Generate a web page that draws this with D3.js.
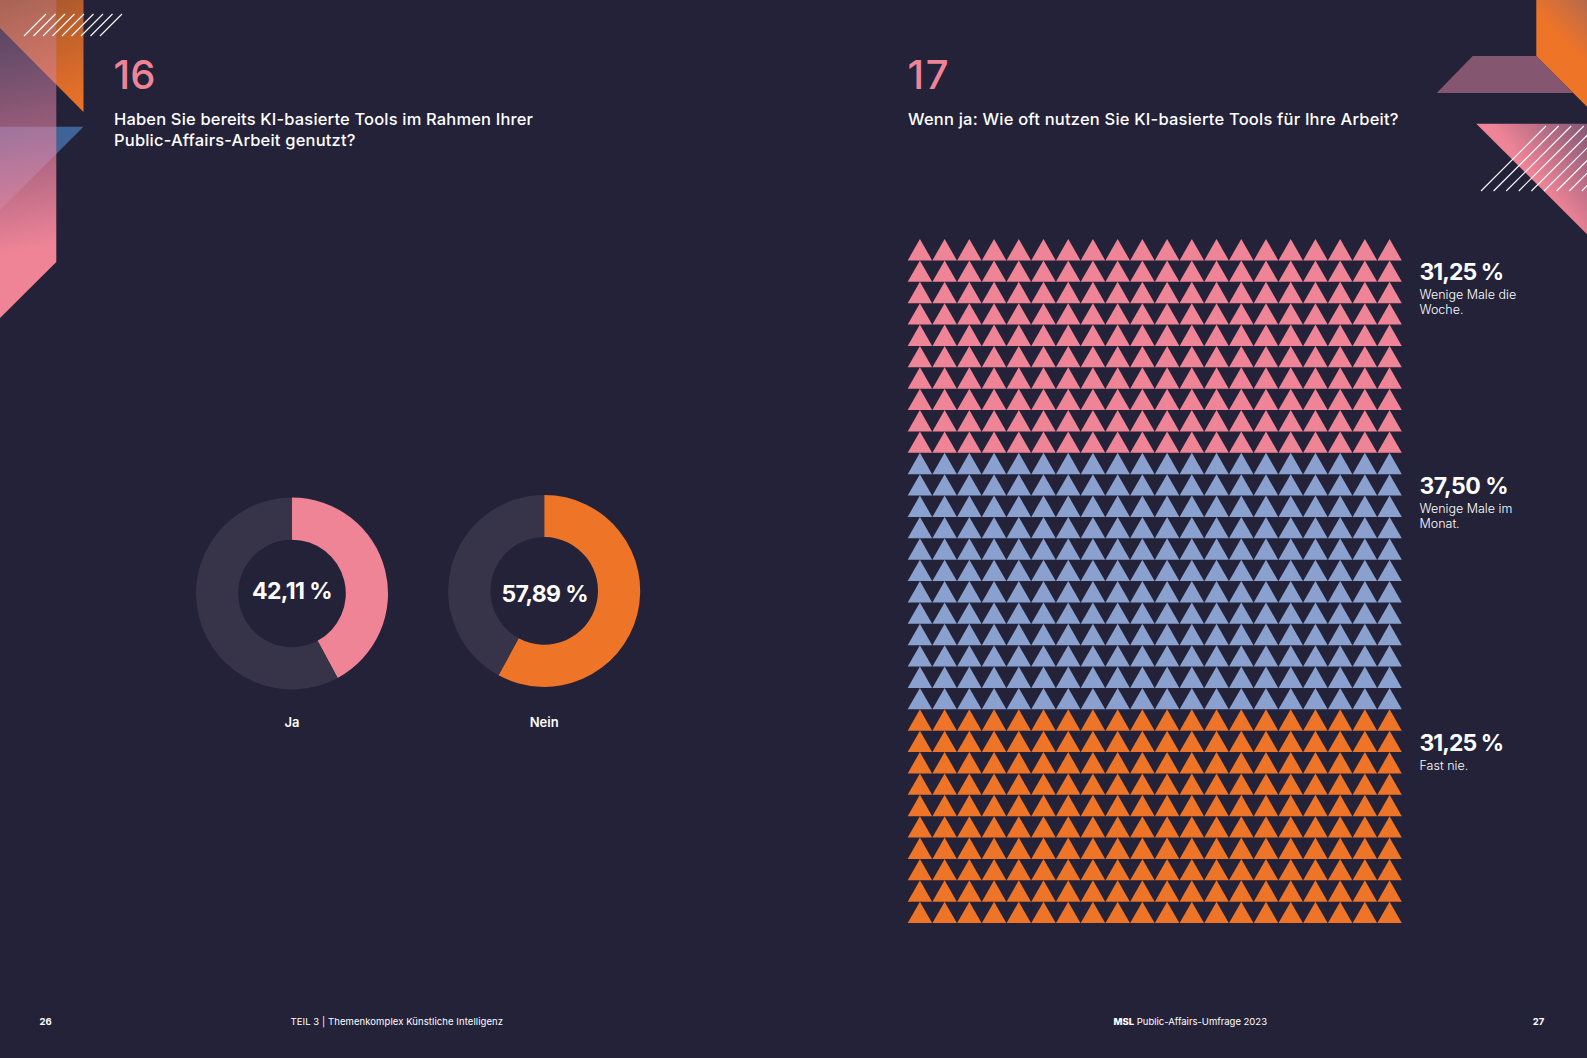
<!DOCTYPE html>
<html lang="de">
<head>
<meta charset="utf-8">
<title>MSL Public-Affairs-Umfrage 2023</title>
<script src="https://cdn.jsdelivr.net/npm/d3@7/dist/d3.min.js"></script>
<style>
html,body{margin:0;padding:0;background:#232238;overflow:hidden}
svg{display:block}
text{font-family:Inter,"Noto Sans",sans-serif;fill:#fff}
</style>
</head>
<body>
<svg id="page" width="1587" height="1058" viewBox="0 0 1587 1058"></svg>
<script>
// Data
const donutCategories = ["Ja", "Nein"];
const donutValues = [42.11, 57.89];
const donutLabels = ["42,11 %", "57,89 %"];
const frequencyLabels = ["31,25 %", "37,50 %", "31,25 %"];
const frequencyNames = [["Wenige Male die", "Woche."], ["Wenige Male im", "Monat."], ["Fast nie."]];
const frequencyCounts = [200, 240, 200];
const questionLeft = ["Haben Sie bereits KI-basierte Tools im Rahmen Ihrer", "Public-Affairs-Arbeit genutzt?"];
const questionRight = ["Wenn ja: Wie oft nutzen Sie KI-basierte Tools für Ihre Arbeit?"];

// Style
const BG = "#232238", PINK = "#f08497", ORANGE = "#ee7428", BLUE = "#8aa1cf", TRACK = "#373449";
const svg = d3.select("#page");
svg.append("rect").attr("width", 1587).attr("height", 1058).attr("fill", BG);
const defs = svg.append("defs");
function gradient(id, x1, y1, x2, y2, stops) {
  const g = defs.append("linearGradient").attr("id", id).attr("gradientUnits", "userSpaceOnUse")
    .attr("x1", x1).attr("y1", y1).attr("x2", x2).attr("y2", y2);
  stops.forEach(s => g.append("stop").attr("offset", s[0]).attr("stop-color", s[1]).attr("stop-opacity", s[2]));
}
gradient("gOrangeL", 30, -10, 83, 112, [[0, ORANGE, 0.62], [1, ORANGE, 1]]);
gradient("gBand", 0, 0, 56, 290, [[0, "#b98ab8", 0.28], [0.45, "#e07fa0", 0.62], [0.85, PINK, 1], [1, PINK, 1]]);
gradient("gOrangeR", 1540, 70, 1600, 10, [[0, ORANGE, 1], [0.45, ORANGE, 1], [1, "#b3684e", 1]]);
gradient("gPinkR", 1500, 190, 1587, 120, [[0, PINK, 1], [0.3, PINK, 1], [1, "#7f5573", 1]]);

const poly = (pts, fill) => svg.append("polygon").attr("points", pts.map(p => p.join(",")).join(" ")).attr("fill", fill);
// Left decoration
poly([[0, 0], [83.5, 0], [83.5, 112], [0, 28]], "url(#gOrangeL)");
poly([[0, 126.7], [83.5, 126.7], [0, 210]], "#3f6396");
poly([[0, 0], [56.3, 0], [56.3, 262], [0, 318]], "url(#gBand)");
// Right decoration
poly([[1472.7, 56], [1536.3, 56], [1573, 93], [1436.7, 93]], "#85566f");
poly([[1536.3, 0], [1587, 0], [1587, 106.7], [1536.3, 56]], "url(#gOrangeR)");
poly([[1476.3, 123.7], [1587, 123.7], [1587, 234.3]], "url(#gPinkR)");
function hatch(x0s, y0, dx, dy, w) {
  svg.append("g").attr("stroke", "#fff").attr("stroke-width", w).selectAll("line").data(x0s).join("line")
    .attr("x1", d => d).attr("y1", y0).attr("x2", d => d + dx).attr("y2", y0 - dy);
}
hatch(d3.range(9).map(i => 24 + i * 9.5), 36, 22, 22, 1.1);
hatch(d3.range(9).map(i => 1481 + i * 12.6), 191, 65, 65, 1.1);

function put(str, x, y, size, weight, opts = {}) {
  const t = svg.append("text").attr("x", x).attr("y", y).attr("font-size", size).attr("font-weight", weight).text(str);
  if (opts.fill) t.style("fill", opts.fill);
  if (opts.anchor) t.attr("text-anchor", opts.anchor);
  if (opts.len) t.attr("textLength", opts.len).attr("lengthAdjust", "spacing");
  return t;
}
// Headers
put("16", 113.5, 89, 40, 500, {fill: PINK, len: 42});
put("17", 907.5, 89, 40, 500, {fill: PINK, len: 41});
put(questionLeft[0], 114, 125, 16.5, 450, {len: 419});
put(questionLeft[1], 114, 146, 16.5, 450, {len: 241.5});
put(questionRight[0], 908, 125, 16.5, 450, {len: 490.5});

// Donuts
const pie = d3.pie().sort(null);
const arc = d3.arc().innerRadius(53.8).outerRadius(96);
const donutCenters = [[292, 593.5], [544.2, 590.9]];
const donutColors = [PINK, ORANGE];
const textBase = [599, 601.7], textX = [[252, 80.5], [501.5, 87]];
donutValues.forEach((v, i) => {
  const g = svg.append("g").attr("transform", `translate(${donutCenters[i]})`);
  g.selectAll("path").data(pie([v, 100 - v])).join("path").attr("d", arc)
    .attr("fill", (d, k) => k === 0 ? donutColors[i] : TRACK);
  put(donutLabels[i], textX[i][0], textBase[i], 23, 700, {len: textX[i][1]});
  put(donutCategories[i], donutCenters[i][0], 726.5, 13, 600, {anchor: "middle"});
});

// Triangle field
const nCols = 20, nRows = d3.sum(frequencyCounts) / nCols;
const xCol = d3.scaleBand().domain(d3.range(nCols)).range([907.7, 1401.8]).paddingInner(0.012);
const yRow = d3.scaleBand().domain(d3.range(nRows)).range([239, 923]);
const cells = [];
frequencyCounts.forEach((n, s) => d3.range(n).forEach(() => cells.push(s)));
const triColors = [PINK, BLUE, ORANGE];
const tri = d3.line();
svg.append("g").selectAll("path").data(cells).join("path")
  .attr("fill", d => triColors[d])
  .attr("d", (d, i) => {
    const c = i % nCols, r = Math.floor(i / nCols);
    const x = xCol(c), y = yRow(r), w = xCol.bandwidth(), h = yRow.bandwidth();
    return tri([[x, y + h], [x + w / 2, y], [x + w, y + h]]) + "Z";
  });

// Triangle field labels
const labelBase = [280, 494, 750.7];
const labelLen = [84.5, 89, 84.5];
frequencyLabels.forEach((l, i) => {
  put(l, 1419.5, labelBase[i], 23, 700, {len: labelLen[i]});
  frequencyNames[i].forEach((line, k) => put(line, 1419.5, labelBase[i] + 19.3 + k * 14.7, 12.5, 300));
});

// Footer
put("26", 39.5, 1025, 9.5, 700);
put("TEIL 3 | Themenkomplex Künstliche Intelligenz", 290.5, 1025, 9.5, 400, {len: 212.5});
const foot = put("", 1113.5, 1025, 9.5, 400);
foot.append("tspan").attr("font-weight", 800).text("MSL");
foot.append("tspan").text(" Public-Affairs-Umfrage 2023");
foot.attr("textLength", 153.5).attr("lengthAdjust", "spacing");
put("27", 1532.7, 1025, 9.5, 700);
</script>
</body>
</html>
